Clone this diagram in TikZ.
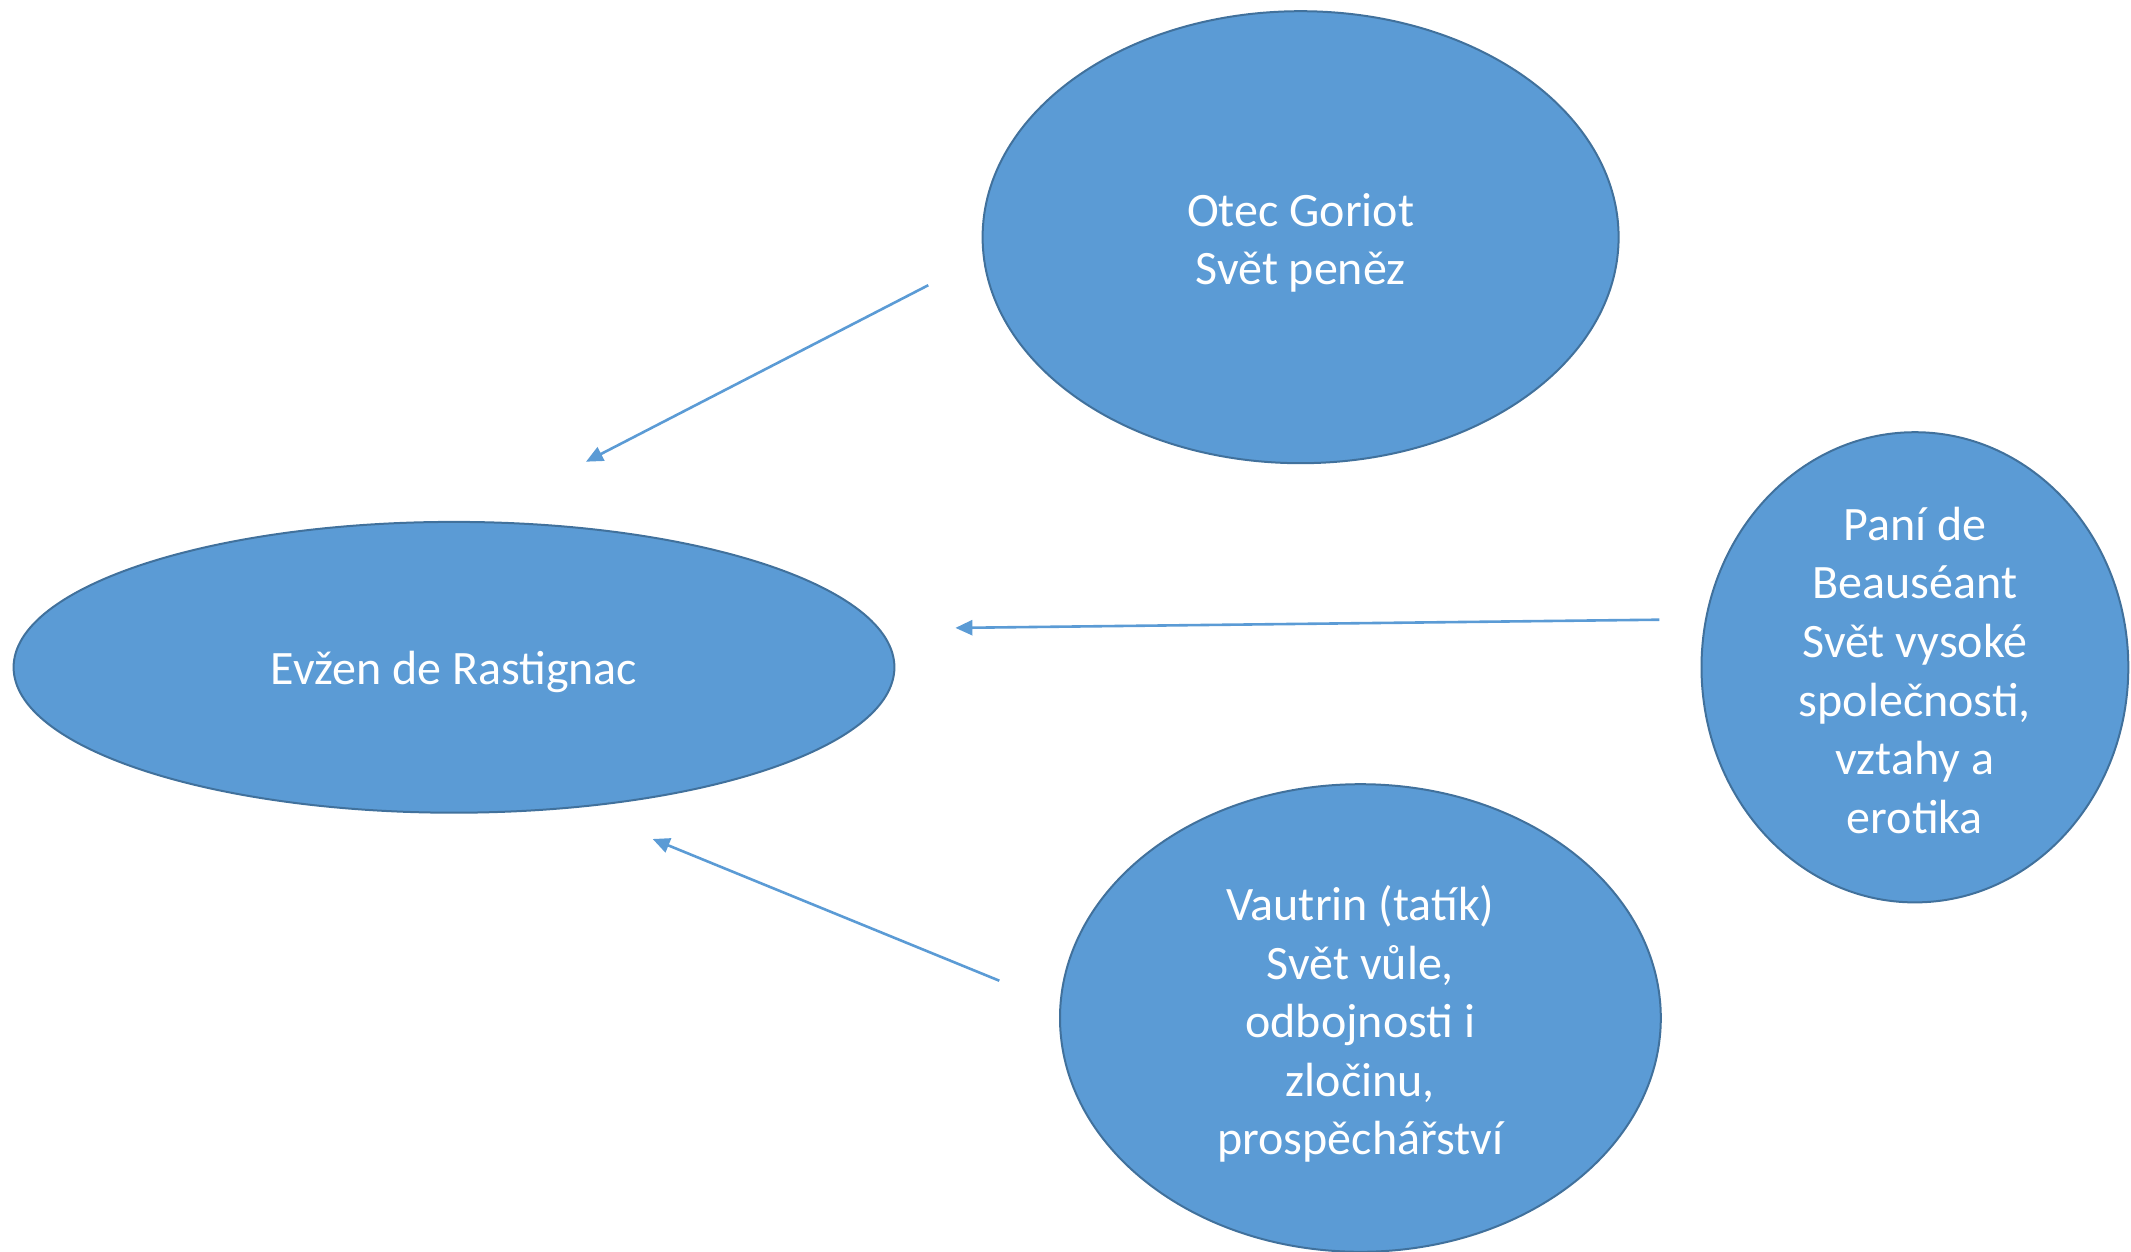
\documentclass[tikz,border=0pt]{standalone}
\usepackage{fontspec}
\setmainfont{Carlito}
\usetikzlibrary{shapes.geometric,arrows.meta}
\definecolor{fillblue}{HTML}{5B9BD5}
\definecolor{edgeblue}{HTML}{41719C}
\begin{document}
\begin{tikzpicture}[x=0.5pt,y=-0.5pt,
  blob/.style={ellipse,draw=edgeblue,line width=1pt,fill=fillblue,inner sep=0pt},
  txt/.style={text=white,align=center,inner sep=0pt,font=\fontsize{24}{29.3}\selectfont},
  link/.style={draw=fillblue,line width=1.3pt,-{Triangle[length=8.5pt,width=7.5pt]}}]
\useasboundingbox (0,0) rectangle (2131,1252);
\node[blob,minimum width=636pt*0.5,minimum height=452pt*0.5] (goriot) at (1300.6,237.2) {};
\node[blob,minimum width=880.8pt*0.5,minimum height=290.8pt*0.5] (evzen) at (454,667.3) {};
\node[blob,minimum width=426.8pt*0.5,minimum height=470.2pt*0.5] (pani) at (1914.9,667.3) {};
\node[blob,minimum width=600.8pt*0.5,minimum height=467.6pt*0.5] (vautrin) at (1360.4,1018) {};
\node[txt] (goriottxt) at ([yshift=-2.8pt]goriot.center) {Otec Goriot\\Svět peněz};
\node[txt] (evzentxt) at ([yshift=-2.2pt]evzen.center) {Evžen de Rastignac};
\node[txt] (panitxt) at ([yshift=-1.5pt]pani.center)
  {Paní de\\Beauséant\\Svět vysoké\\společnosti,\\vztahy a\\erotika};
\node[txt] (vautrintxt) at ([yshift=-3pt]vautrin.center)
  {Vautrin (tatík)\\Svět vůle,\\odbojnosti i\\zločinu,\\prospěchářství};
\coordinate (a1s) at (928.3,285.2);
\coordinate (a1e) at (586,461.7);
\coordinate (a2s) at (1659.4,619.7);
\coordinate (a2e) at (955.4,627.9);
\coordinate (a3s) at (999.3,980.7);
\coordinate (a3e) at (652.7,839);
\draw[link] (a1s) -- (a1e);
\draw[link] (a2s) -- (a2e);
\draw[link] (a3s) -- (a3e);
\end{tikzpicture}
\end{document}
